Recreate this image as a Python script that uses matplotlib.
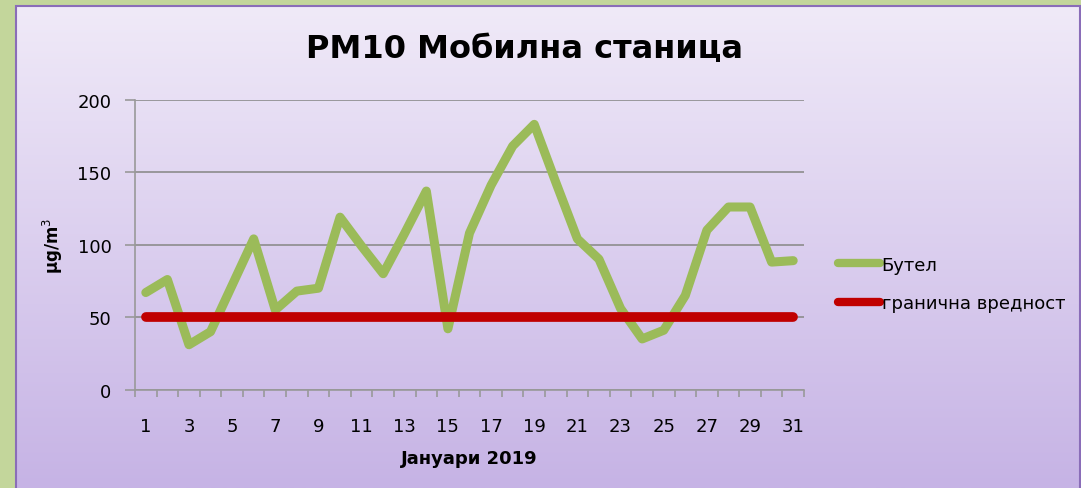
import numpy as np
import matplotlib
matplotlib.use("Agg")
import matplotlib.pyplot as plt
from matplotlib.patches import Rectangle

plt.rcParams['font.family'] = ['DejaVu Sans']

days = list(range(1, 32))
butel = [67, 76, 31, 40, 72, 104, 55, 68, 70, 119, 99, 80, 108, 137, 42, 108,
         141, 168, 183, 143, 104, 90, 56, 35, 41, 65, 110, 126, 126, 88, 89]
limit = [50] * 31
series_names = ["Бутел", "гранична вредност"]
xtick_labels = [str(d) for d in range(1, 32, 2)]
yticks = [0, 50, 100, 150, 200]
title = "PM10 Мобилна станица"
xlabel = "Јануари 2019"
ylabel = "µg/m$^3$"

W, H = 1081, 489
fig = plt.figure(figsize=(W / 100, H / 100), dpi=100)
fig.patch.set_facecolor("#c3d69b")

# panel with gradient
px0, py0, px1, py1 = 16, 7, 1080, 489
bg = fig.add_axes([px0 / W, 1 - py1 / H, (px1 - px0) / W, (py1 - py0) / H])
grad = np.linspace(0, 1, 256).reshape(-1, 1)
top = np.array([0xf0, 0xea, 0xf8]) / 255
bot = np.array([0xc6, 0xb3, 0xe5]) / 255
img = top[None, None, :] * (1 - grad[:, :, None]) + bot[None, None, :] * grad[:, :, None]
bg.imshow(img, aspect="auto", extent=[0, 1, 0, 1])
bg.set_xlim(0, 1)
bg.set_ylim(0, 1)
bg.axis("off")
fig.patches.append(Rectangle((px0 / W, -0.02), (px1 - px0) / W, (py1 - py0) / H + 0.02,
                             transform=fig.transFigure, fill=False,
                             edgecolor="#8a6db8", linewidth=1.5, zorder=1))

ax = fig.add_axes([135 / W, 98.3 / H, 669 / W, 290 / H])
ax.set_facecolor("none")
ax.plot(days, butel, color="#9bbb59", lw=6.5, solid_capstyle="round",
        solid_joinstyle="round", label=series_names[0], zorder=3)
ax.plot(days, limit, color="#c00000", lw=7, solid_capstyle="round",
        label=series_names[1], zorder=4)

ax.set_xlim(0.5, 31.5)
ax.set_ylim(0, 200)
ax.set_yticks(yticks)
ax.set_xticks(range(1, 32, 2))
ax.set_xticklabels(xtick_labels)
ax.set_xticks(np.arange(0.5, 32, 1), minor=True)
ax.tick_params(axis="x", which="major", length=0, pad=20, labelsize=13)
ax.tick_params(axis="x", which="minor", length=5, color="#999999", width=1.2)
ax.tick_params(axis="y", which="major", length=7, color="#999999", width=1.2,
               pad=10, labelsize=13)
ax.grid(axis="y", color="#8c8c8c", lw=1.2, zorder=1)
for s in ["top", "right"]:
    ax.spines[s].set_visible(False)
for s in ["left", "bottom"]:
    ax.spines[s].set_color("#999999")
    ax.spines[s].set_linewidth(1.2)

fig.text(525 / W, 1 - 50 / H, title, ha="center", va="center",
         fontsize=23, fontweight="bold")
fig.text(469 / W, 1 - 459 / H, xlabel, ha="center", va="center",
         fontsize=13, fontweight="bold")
fig.text(53 / W, 1 - 246 / H, ylabel, ha="center", va="center",
         fontsize=12, fontweight="bold", rotation=90)

leg = fig.legend(loc="center left", bbox_to_anchor=(822 / W, 1 - 285 / H),
                 frameon=False, fontsize=13, handlelength=2.3,
                 handletextpad=0.1, labelspacing=1.15)
for h in leg.get_lines():
    h.set_linewidth(6)

fig.savefig("out.png", dpi=100, facecolor=fig.get_facecolor())
